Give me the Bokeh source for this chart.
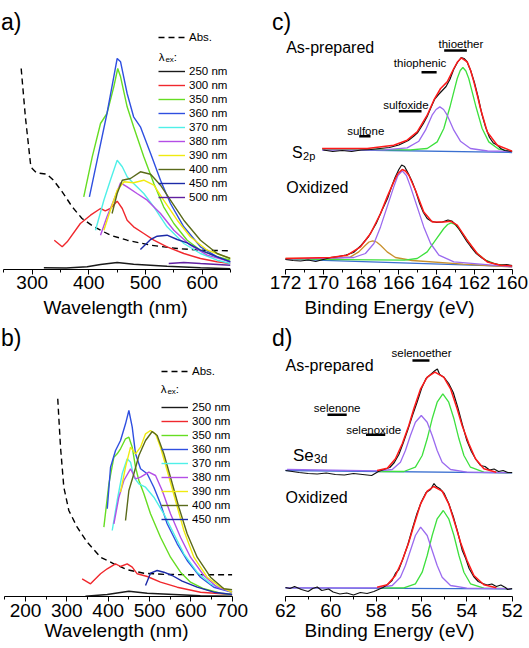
from bokeh.plotting import figure
from bokeh.models import Range1d, FixedTicker, Label, Legend, LegendItem
from bokeh.layouts import row, column
from bokeh.embed import file_html
from bokeh.resources import INLINE

FONT = "Liberation Sans"

# ======================= DATA =======================
# ---- panel a: PL spectra (intensity, a.u.) ----
A_ABS_X = [280.6, 288, 297, 300, 307.6, 326, 338, 353, 370.6, 388, 409, 438, 467.6, 509, 556, 597, 650]
A_ABS_Y = [201, 152.7, 106, 101, 96.7, 95.3, 89, 77.7, 62.7, 51, 42.7, 34.3, 29.3, 24.3, 21, 19.3, 18.7]

A_250_X = [320.6, 360, 397, 420.6, 450, 479, 538, 597, 650]
A_250_Y = [1.7, 1.5, 2.7, 5, 7, 5.3, 3.3, 1.7, 0.7]
A_300_X = [339, 353, 361.8, 385, 403, 420.6, 429, 438, 450, 459, 467.6, 479, 497, 514.7, 538, 567.6, 597, 626, 650]
A_300_Y = [29.3, 22.7, 27.7, 46, 54.3, 61, 58.7, 61, 68.3, 61, 49.3, 42.7, 36, 29.3, 22.7, 16, 11, 7.7, 6]
A_350_X = [391, 406, 420.6, 432, 444, 451, 456, 467.6, 479, 497, 514.7, 532, 550, 573.5, 597, 626.5, 650]
A_350_Y = [72.7, 112.7, 146, 156, 182.7, 201, 192.7, 162.7, 142.7, 112.7, 86, 62.7, 46, 29.3, 19.3, 12.7, 9.3]
A_360_X = [401, 414.7, 432, 444, 450, 456, 467.6, 479, 491, 509, 526.5, 544, 567.6, 597, 626.5, 650]
A_360_Y = [72.7, 109.3, 156, 192.7, 211, 207.7, 176, 152.7, 142.7, 116, 89.3, 66, 42.7, 22.7, 12.7, 7.7]
A_370_X = [411.8, 426.5, 438, 450, 459, 467.6, 479, 497, 514.7, 538, 567.6, 597, 626.5, 650]
A_370_Y = [39.3, 69.3, 89.3, 109.3, 102.7, 92.7, 86, 76, 62.7, 42.7, 26, 16, 9.3, 6]
A_380_X = [420.6, 432, 444, 456, 467.6, 485, 503, 526.5, 550, 579, 609, 650]
A_380_Y = [34.3, 52.7, 69.3, 86.7, 82.7, 76, 69.3, 56, 39.3, 24.3, 14.3, 7.7]
A_390_X = [426.5, 438, 450, 462, 479, 497, 514.7, 532, 556, 579, 609, 650]
A_390_Y = [39.3, 59.3, 79.3, 87.7, 86.7, 89.3, 84.3, 69.3, 49.3, 32.7, 19.3, 11]
A_400_X = [441, 450, 459, 473.5, 491, 509, 526.5, 544, 567.6, 597, 626.5, 650]
A_400_Y = [56, 76, 89.3, 91, 97.7, 95.3, 84.3, 69.3, 49.3, 29.3, 16, 11]
A_450_X = [491, 509, 520.6, 538, 556, 573.5, 597, 626.5, 650]
A_450_Y = [20, 30, 33.3, 34.3, 30, 26.7, 19.3, 12.7, 7.7]
A_500_X = [541, 567.6, 597, 650]
A_500_Y = [6, 7, 6, 4.3]

# ---- panel b ----
B_ABS_X = [278, 284.7, 292.7, 304.8, 325, 349.3, 381.5, 413.7, 446, 486.3, 542.8, 623.4, 700]
B_ABS_Y = [197.7, 149.3, 109.3, 86, 69.3, 54.3, 39.3, 32.7, 26.7, 23.3, 22, 21.7, 21.7]
B_250_X = [345, 397.7, 450, 494.5, 558.8, 623, 700]
B_250_Y = [0.3, 2, 5.3, 3.3, 2, 0.7, 0.2]
B_300_X = [337, 357.3, 381.5, 397.7, 417.8, 429.9, 446, 458.2, 470.3, 494.5, 526.6, 567, 623.4, 700]
B_300_Y = [17.7, 12.7, 22.7, 27.7, 32.7, 30, 32.7, 29.3, 22.7, 20, 14.3, 9.3, 4.3, 2]
B_350_X = [389.6, 401.7, 413.8, 421.8, 429.9, 442, 450.1, 458.2, 466.2, 474.3, 486.4, 502.4, 526.6, 550.8, 575, 599.2, 631.5, 671.8, 700]
B_350_Y = [69.3, 112.7, 139.3, 142.7, 147.7, 157.7, 159.3, 149.3, 129.3, 116, 102.7, 82.7, 59.3, 39.3, 24.3, 14.3, 7.7, 3.3, 2]
B_360_X = [397.8, 405.7, 417.8, 429.9, 442, 450.1, 458.2, 466.2, 478.3, 494.4, 510.5, 526.6, 542.7, 566.9, 591.1, 623.4, 655.7, 700]
B_360_Y = [87.7, 129.3, 146, 156, 172.7, 186, 169.3, 142.7, 127.7, 122.7, 109.3, 92.7, 72.7, 52.7, 36, 19.3, 9.3, 4.3]
B_370_X = [409.8, 421.8, 433.9, 446, 454.1, 462.2, 474.3, 490.4, 510.5, 534.7, 558.9, 583.1, 615.3, 647.6, 700]
B_370_Y = [66, 96, 122.7, 137.7, 134.3, 119.3, 112.7, 109.3, 99.3, 82.7, 62.7, 42.7, 24.3, 12.7, 4.3]
B_380_X = [413.8, 425.9, 438, 454.1, 466.2, 478.3, 498.4, 514.6, 530.7, 550.8, 575, 599.2, 631.5, 663.7, 700]
B_380_Y = [72.7, 99.3, 116, 127.7, 117.7, 119.3, 124.3, 121, 106, 82.7, 59.3, 39.3, 21, 9.3, 4.3]
B_390_X = [429.9, 442, 454.1, 466.2, 478.3, 490.4, 502.4, 514.6, 526.6, 542.7, 562.9, 583.1, 607.3, 639.5, 671.8, 700]
B_390_Y = [104.3, 129.3, 149.3, 142.7, 149.3, 162.7, 166, 162.7, 149.3, 126, 96, 66, 39.3, 19.3, 9.3, 4.3]
B_400_X = [442, 450.1, 462.2, 474.3, 490.4, 506.5, 518.6, 534.7, 550.8, 571, 591.1, 615.3, 647.6, 679.9, 700]
B_400_Y = [76, 106, 122.7, 141, 156, 165, 161, 142.7, 119.3, 89.3, 62.7, 39.3, 19.3, 7.7, 6.7]
B_450_X = [490.4, 502.4, 518.6, 534.7, 554.8, 579, 615.3, 655.7, 700]
B_450_Y = [11, 23.3, 26, 24.3, 21, 15.3, 9.3, 4.3, 2]

EX_LABELS = ["250 nm", "300 nm", "350 nm", "360 nm", "370 nm", "380 nm", "390 nm", "400 nm", "450 nm", "500 nm"]

# ---- panel c: S 2p XPS (binding energy eV, intensity a.u.) ----
C_AP_DATA_X = [170.0, 169.5, 169.0, 168.5, 168.0, 167.5, 167.0, 166.5, 166.0, 165.5, 165.2, 165.0, 164.7, 164.5, 164.3, 164.1, 163.9, 163.7, 163.5, 163.3, 163.1, 162.9, 162.7, 162.55, 162.4, 162.2, 162.0, 161.8, 161.6, 161.4, 161.2, 161.0, 160.8, 160.6, 160.4, 160.2, 160.0]
C_AP_DATA_Y = [119.5, 118, 119, 118, 119.5, 120, 121, 122, 124.5, 129, 133.5, 137, 146, 153, 162, 170.5, 175, 179, 183, 190, 200, 207, 212, 211, 208, 199, 187, 172, 155, 142, 132, 126.5, 124.5, 121, 119, 118.5, 118]
C_AP_FIT_X = [170.06, 167.68, 166.27, 165.56, 165.03, 164.5, 164.15, 163.79, 163.44, 163.09, 162.9, 162.7, 162.38, 162.2, 162.03, 161.85, 161.68, 161.32, 160.79, 160.0]
C_AP_FIT_Y = [121, 121, 124.3, 129.3, 137.6, 154.3, 169.3, 181, 187.6, 201, 207.5, 211.6, 207.6, 199, 187.6, 174.5, 161, 137.6, 124.3, 118.3]
C_AP_G_X = [170.06, 165.4, 164.5, 163.97, 163.62, 163.27, 162.91, 162.75, 162.61, 162.45, 162.3, 161.94, 161.59, 161.24, 160.71, 160.0]
C_AP_G_Y = [120.5, 119.7, 121, 127.6, 141, 164.3, 191, 199, 202, 198.5, 191, 164.3, 141, 127.6, 120.3, 118]
C_AP_P_X = [170.06, 166.8, 165.56, 164.94, 164.59, 164.24, 164.03, 163.83, 163.63, 163.44, 163.09, 162.74, 162.21, 161.3, 160.0]
C_AP_P_Y = [119.3, 119.6, 121.6, 128.3, 139.3, 154.3, 160, 162.6, 160, 154.3, 139.3, 128.3, 121, 118.5, 118]
C_AP_BASE_X = [170.06, 160.0]
C_AP_BASE_Y = [120, 117]

C_OX_DATA_X = [172, 171.6, 171.2, 170.8, 170.4, 170, 169.6, 169.2, 168.8, 168.4, 168.0, 167.6, 167.2, 166.9, 166.6, 166.4, 166.2, 166.0, 165.85, 165.7, 165.5, 165.3, 165.1, 164.9, 164.7, 164.5, 164.3, 164.0, 163.7, 163.4, 163.2, 163.0, 162.8, 162.6, 162.4, 162.2, 161.9, 161.6, 161.3, 161.0, 160.6, 160.3, 160.0]
C_OX_DATA_Y = [10, 9, 8.5, 9.5, 8, 10, 12, 13, 14.5, 17, 24, 33, 46, 59, 71, 82, 92, 100, 104.5, 103, 96, 88, 78, 66, 57, 51, 48.5, 47, 47.5, 49.5, 48.5, 45, 40, 34, 28, 23, 16, 11.5, 8, 6, 4.5, 5, 4]
C_OX_FIT_X = [172, 169.62, 168.73, 168.03, 167.5, 166.97, 166.62, 166.27, 166.05, 165.82, 165.65, 165.47, 165.12, 164.68, 164.23, 163.62, 163.27, 162.91, 162.38, 161.85, 161.32, 160.62, 160]
C_OX_FIT_Y = [11, 12, 14.3, 22.6, 36, 56, 72.6, 87.6, 96, 100, 98.5, 94.3, 79.3, 57.6, 47.6, 47.6, 48.3, 44.3, 29.3, 16, 7.6, 4.3, 3.6]
C_OX_P_X = [172, 168.38, 167.77, 167.32, 166.97, 166.62, 166.27, 166.05, 165.82, 165.6, 165.38, 165.03, 164.68, 164.32, 163.88, 163.09, 160]
C_OX_P_Y = [10.3, 12, 16, 26, 42.6, 62.6, 82.6, 94, 98.6, 94, 82.6, 62.6, 42.6, 26, 14.3, 7.6, 2.6]
C_OX_G_X = [172, 165.7, 165.03, 164.5, 164.06, 163.62, 163.42, 163.23, 163.03, 162.83, 162.38, 161.94, 161.41, 160.79, 160]
C_OX_G_Y = [10.3, 9.3, 11, 17.6, 29.3, 41, 45, 46.6, 45, 41, 29.3, 17.6, 9.3, 5, 3.3]
C_OX_O_X = [172, 169.6, 168.56, 168.12, 167.77, 167.58, 167.38, 167.18, 166.97, 166.62, 166.18, 165.3, 162.6, 160]
C_OX_O_Y = [11, 11, 12.6, 17.6, 24.3, 27.5, 28.6, 27.5, 24.3, 17.6, 12, 9, 5.3, 2.6]
C_OX_BASE_X = [172, 160]
C_OX_BASE_Y = [10.3, 3]

S_SPECIES = ["sulfone", "sulfoxide", "thiophenic", "thioether"]
S_BE_HI = [168.1, 166.0, 164.8, 163.6]
S_BE_LO = [167.5, 164.8, 164.0, 162.4]

# ---- panel d: Se 3d XPS ----
D_AP_DATA_X = [62, 61.7, 61.4, 61, 60.6, 60.2, 59.8, 59.4, 59, 58.6, 58.2, 57.9, 57.6, 57.4, 57.2, 57.0, 56.8, 56.6, 56.4, 56.2, 56.0, 55.8, 55.6, 55.4, 55.3, 55.2, 55.0, 54.8, 54.6, 54.4, 54.2, 54.0, 53.8, 53.6, 53.4, 53.2, 53.0, 52.8, 52.6, 52.4, 52.2, 52]
D_AP_DATA_Y = [126, 125, 124, 123, 122.5, 123.5, 122, 121.5, 123, 122, 121, 125, 127.5, 129, 134, 142, 154, 167, 181, 194, 208, 218, 222, 226, 227.5, 222, 219, 213, 204, 189, 172, 156, 145, 137, 131, 130, 126.5, 127.5, 125, 126, 124, 124]
D_AP_FIT_X = [57.96, 57.51, 57.15, 56.85, 56.56, 56.34, 56.04, 55.75, 55.41, 55.02, 54.72, 54.43, 54.21, 53.91, 53.62, 53.25, 52.7]
D_AP_FIT_Y = [126, 128.3, 137.7, 152.7, 171, 187.7, 207.7, 219.3, 224.3, 219.3, 207.7, 187.7, 171, 152.7, 137.7, 127.7, 124.3]
D_AP_G_X = [57.9, 56.78, 56.27, 55.97, 55.75, 55.53, 55.31, 55.06, 54.8, 54.57, 54.35, 54.13, 53.84, 53.25, 52]
D_AP_G_Y = [125, 125, 129.3, 141, 157.7, 177.7, 194.3, 202.7, 194.3, 177.7, 157.7, 141, 129.3, 124.3, 123.7]
D_AP_P_X = [61.93, 57.9, 57.29, 56.93, 56.71, 56.49, 56.27, 56.01, 55.75, 55.53, 55.31, 55.09, 54.72, 54.0, 52]
D_AP_P_Y = [127, 125.7, 127, 134.3, 146, 161, 174.3, 181, 174.3, 161, 146, 134.3, 127, 124.3, 123.7]
D_AP_BASE_X = [62, 52]
D_AP_BASE_Y = [126, 123.7]

D_OX_DATA_X = [62, 61.8, 61.6, 61.3, 61, 60.8, 60.6, 60.4, 60.1, 59.9, 59.6, 59.3, 59, 58.7, 58.4, 58.1, 57.9, 57.7, 57.5, 57.3, 57.15, 57.0, 56.8, 56.6, 56.4, 56.2, 56.0, 55.8, 55.6, 55.45, 55.35, 55.2, 55.0, 54.8, 54.6, 54.4, 54.2, 54.05, 53.9, 53.7, 53.5, 53.3, 53.1, 52.9, 52.7, 52.5, 52.3, 52.2, 52]
D_OX_DATA_Y = [9, 8, 10, 7, 5, 8, 9.5, 6, 7.5, 4.5, 2.5, 3.5, 1.5, 4, 3, 5, 7, 9, 12, 16, 23, 27, 39, 52, 68, 83, 95, 104, 107, 113, 110, 108, 103, 93, 80, 64, 46, 38, 28, 20, 15, 13, 11.5, 12.5, 10, 11.5, 9, 7, 8]
D_OX_FIT_X = [57.96, 57.51, 57.15, 56.85, 56.56, 56.34, 56.04, 55.75, 55.46, 55.09, 54.8, 54.5, 54.28, 53.99, 53.69, 53.25, 52.7]
D_OX_FIT_Y = [9.3, 11.7, 21, 36, 54.3, 71, 92.7, 105.3, 110, 105.3, 92.7, 71, 54.3, 36, 21, 11.7, 8.7]
D_OX_G_X = [57.9, 56.78, 56.27, 55.97, 55.75, 55.53, 55.31, 55.04, 54.8, 54.57, 54.35, 54.13, 53.84, 53.25, 52]
D_OX_G_Y = [8.7, 8.7, 12.7, 24.3, 41, 61, 77.7, 86, 77.7, 61, 41, 24.3, 12.7, 8.3, 7.7]
D_OX_P_X = [62, 57.9, 57.29, 56.93, 56.71, 56.49, 56.27, 56.04, 55.75, 55.53, 55.31, 55.09, 54.72, 54.0, 52]
D_OX_P_Y = [8.7, 8.7, 11, 19.3, 31, 46, 61, 69.3, 61, 46, 31, 19.3, 11, 8.3, 7.7]
D_OX_BASE_X = [62, 52]
D_OX_BASE_Y = [8.7, 7.7]

SE_SPECIES = ["selenoether", "selenone", "selenoxide"]
SE_BE_HI = [56.4, 60.15, 58.45]
SE_BE_LO = [55.65, 59.3, 57.6]

# tick values
A_MAJOR = [300, 400, 500, 600]
A_MINOR = [250, 350, 450, 550, 650]
B_MAJOR = [200, 300, 400, 500, 600, 700]
B_MINOR = [150, 250, 350, 450, 550, 650]
C_MAJOR = [172, 170, 168, 166, 164, 162, 160]
C_MINOR = [171, 169, 167, 165, 163, 161]
D_MAJOR = [62, 60, 58, 56, 54, 52]
D_MINOR = [61, 59, 57, 55, 53]

# ======================= STYLE / LAYOUT =======================
COLORS = ["#1a1a1a", "#f0282d", "#66dd22", "#2f4fe0", "#4ff0e8",
          "#b44ee6", "#f0ea10", "#5a6a1a", "#1c2aa8", "#6020a0"]
XPS = dict(data="#111111", fit="#ff1a1a", g="#3ee03e", p="#9b6bef",
           base="#3a6fd0", o="#c8902c")

# frame geometry in page pixels (page has no margin)
G = {
    "a": dict(left=0, right=230, top=0, bottom=269, x0=244.1, x1=650, y0=0, y1=269, bounds=(250, 650)),
    "c": dict(left=266, right=512, top=0, bottom=269, x0=173.006, x1=159.984, y0=0, y1=269, bounds=(160, 172)),
    "b": dict(left=0, right=232, top=320, bottom=596, x0=139.5, x1=700.8, y0=0, y1=276, bounds=(150, 700)),
    "d": dict(left=266, right=512, top=320, bottom=596, x0=62.838, x1=51.987, y0=0, y1=276, bounds=(52, 62)),
}


def to_data(k, X, Y):
    g = G[k]
    x = g["x0"] + (X - g["left"]) / (g["right"] - g["left"]) * (g["x1"] - g["x0"])
    y = g["y0"] + (g["bottom"] - Y) / (g["bottom"] - g["top"]) * (g["y1"] - g["y0"])
    return x, y


def make_fig(k, col_x, row_y, width, height, xlabel, major, minor, tick_standoff, lab_standoff):
    g = G[k]
    p = figure(width=width, height=height,
               x_range=Range1d(g["x0"], g["x1"]), y_range=Range1d(g["y0"], g["y1"]),
               output_backend="svg", toolbar_location=None, tools="",
               y_axis_location=None,
               min_border_left=g["left"] - col_x,
               min_border_right=col_x + width - g["right"],
               min_border_top=g["top"] - row_y,
               min_border_bottom=row_y + height - g["bottom"])
    p.outline_line_color = None
    p.grid.visible = False
    p.background_fill_color = "white"
    p.border_fill_color = "white"
    ax = p.xaxis[0]
    ax.bounds = g["bounds"]
    ax.ticker = FixedTicker(ticks=major, minor_ticks=minor)
    ax.axis_label = xlabel
    ax.axis_label_text_font = FONT
    ax.axis_label_text_font_size = "19px"
    ax.axis_label_text_font_style = "normal"
    ax.axis_label_text_color = "black"
    ax.axis_label_standoff = lab_standoff
    ax.major_label_text_font = FONT
    ax.major_label_text_font_size = "19px"
    ax.major_label_text_color = "black"
    ax.major_label_standoff = tick_standoff
    ax.axis_line_color = "black"
    ax.axis_line_width = 1.2
    ax.major_tick_line_color = "black"
    ax.minor_tick_line_color = "black"
    ax.major_tick_out = 5
    ax.major_tick_in = 0
    ax.minor_tick_out = 3
    ax.minor_tick_in = 0
    return p


def text(p, k, X, Y, s, size):
    x, y = to_data(k, X, Y)
    p.add_layout(Label(x=x, y=y, text=s, text_font=FONT, text_font_size=size,
                       text_color="black", text_baseline="alphabetic", text_align="left"))


def pl_panel(p, k, abs_xy, series, labels, leg_abs_center, leg_first_center, leg_x, lam_xy):
    g = G[k]
    ra = p.line(abs_xy[0], abs_xy[1], line_color="black", line_width=1.4, line_dash="6 4")
    rs = []
    for (xs, ys), c in zip(series, COLORS):
        rs.append(p.line(xs, ys, line_color=c, line_width=1.4))
    common = dict(orientation="vertical", glyph_width=27, glyph_height=14, label_height=14,
                  spacing=0, padding=0, margin=0, label_standoff=4,
                  border_line_color=None, background_fill_alpha=0,
                  label_text_font=FONT, label_text_font_size="11.5px", label_text_color="black")
    la = Legend(items=[LegendItem(label="Abs.", renderers=[ra])],
                location=(leg_x - g["left"], g["bottom"] - (leg_abs_center + 7)), **common)
    n = len(series)
    lb = Legend(items=[LegendItem(label=l, renderers=[r]) for l, r in zip(labels, rs)],
                location=(leg_x - g["left"], g["bottom"] - (leg_first_center - 7 + 14 * n)), **common)
    p.add_layout(la)
    p.add_layout(lb)
    lx, ly = lam_xy
    text(p, k, lx, ly, "\u03bb", "11.5px")
    text(p, k, lx + 6.6, ly + 2.2, "ex", "8px")
    text(p, k, lx + 15.0, ly, ":", "11.5px")


def xps_spectrum(p, data, fit, comps, base):
    p.line(base[0], base[1], line_color=XPS["base"], line_width=1.3)
    for (xs, ys, c) in comps:
        p.line(xs, ys, line_color=XPS[c], line_width=1.3)
    p.line(data[0], data[1], line_color=XPS["data"], line_width=1.2)
    p.line(fit[0], fit[1], line_color=XPS["fit"], line_width=1.5)


# ======================= PANEL a =======================
pa = make_fig("a", 0, 0, 265, 320, "Wavelength (nm)", A_MAJOR, A_MINOR, 1, 5)
pl_panel(pa, "a", (A_ABS_X, A_ABS_Y),
         [(A_250_X, A_250_Y), (A_300_X, A_300_Y), (A_350_X, A_350_Y), (A_360_X, A_360_Y),
          (A_370_X, A_370_Y), (A_380_X, A_380_Y), (A_390_X, A_390_Y), (A_400_X, A_400_Y),
          (A_450_X, A_450_Y), (A_500_X, A_500_Y)],
         EX_LABELS, 36.7, 70.5, 158, (158.3, 56.3))
text(pa, "a", 0.5, 21.5, "a)", "23px")

# ======================= PANEL b =======================
pb = make_fig("b", 0, 320, 265, 328, "Wavelength (nm)", B_MAJOR, B_MINOR, 2, 0)
pl_panel(pb, "b", (B_ABS_X, B_ABS_Y),
         [(B_250_X, B_250_Y), (B_300_X, B_300_Y), (B_350_X, B_350_Y), (B_360_X, B_360_Y),
          (B_370_X, B_370_Y), (B_380_X, B_380_Y), (B_390_X, B_390_Y), (B_400_X, B_400_Y),
          (B_450_X, B_450_Y)],
         EX_LABELS[:9], 370.7, 406.5, 161, (160.3, 388.3))
text(pb, "b", 0.5, 337, "b)", "23px")

# ======================= PANEL c =======================
pc = make_fig("c", 265, 0, 264, 320, "Binding Energy (eV)", C_MAJOR, C_MINOR, 1, 5)
xps_spectrum(pc, (C_AP_DATA_X, C_AP_DATA_Y), (C_AP_FIT_X, C_AP_FIT_Y),
             [(C_AP_G_X, C_AP_G_Y, "g"), (C_AP_P_X, C_AP_P_Y, "p")], (C_AP_BASE_X, C_AP_BASE_Y))
xps_spectrum(pc, (C_OX_DATA_X, C_OX_DATA_Y), (C_OX_FIT_X, C_OX_FIT_Y),
             [(C_OX_O_X, C_OX_O_Y, "o"), (C_OX_G_X, C_OX_G_Y, "g"), (C_OX_P_X, C_OX_P_Y, "p")],
             (C_OX_BASE_X, C_OX_BASE_Y))
# species markers: bar page-y, label page-x, label baseline page-y
S_LAYOUT = [(135.7, 346.7, 130.0), (110.7, 382.7, 104.3), (71.7, 393.3, 62.7), (50.0, 438.0, 43.3)]
bar_y = [to_data("c", 0, by)[1] for by, _, _ in S_LAYOUT]
pc.segment(x0=S_BE_HI, x1=S_BE_LO, y0=bar_y, y1=bar_y, line_color="black", line_width=2.6)
for name, (by, tx, ty) in zip(S_SPECIES, S_LAYOUT):
    text(pc, "c", tx, ty, name, "11.5px")
text(pc, "c", 271.5, 21.5, "c)", "23px")
text(pc, "c", 285.7, 47.3, "As-prepared", "16px")
text(pc, "c", 285.7, 186.7, "Oxidized", "16px")
text(pc, "c", 291.5, 151.5, "S", "16px")
text(pc, "c", 302.6, 155.5, "2p", "11px")

# ======================= PANEL d =======================
pd = make_fig("d", 265, 320, 264, 328, "Binding Energy (eV)", D_MAJOR, D_MINOR, 2, 0)
xps_spectrum(pd, (D_AP_DATA_X, D_AP_DATA_Y), (D_AP_FIT_X, D_AP_FIT_Y),
             [(D_AP_G_X, D_AP_G_Y, "g"), (D_AP_P_X, D_AP_P_Y, "p")], (D_AP_BASE_X, D_AP_BASE_Y))
xps_spectrum(pd, (D_OX_DATA_X, D_OX_DATA_Y), (D_OX_FIT_X, D_OX_FIT_Y),
             [(D_OX_G_X, D_OX_G_Y, "g"), (D_OX_P_X, D_OX_P_Y, "p")], (D_OX_BASE_X, D_OX_BASE_Y))
SE_LAYOUT = [(360.0, 391.0, 352.3), (414.3, 313.3, 407.0), (434.3, 345.7, 429.0)]
bar_y = [to_data("d", 0, by)[1] for by, _, _ in SE_LAYOUT]
pd.segment(x0=SE_BE_HI, x1=SE_BE_LO, y0=bar_y, y1=bar_y, line_color="black", line_width=2.6)
for name, (by, tx, ty) in zip(SE_SPECIES, SE_LAYOUT):
    text(pd, "d", tx, ty, name, "11.5px")
text(pd, "d", 271.5, 337.5, "d)", "23px")
text(pd, "d", 285.0, 365.0, "As-prepared", "16px")
text(pd, "d", 285.0, 496.7, "Oxidized", "16px")
text(pd, "d", 292.5, 455.0, "Se", "17px")
text(pd, "d", 313.5, 458.5, "3d", "12px")

layout = column(row(pa, pc), row(pb, pd))
open("out.html", "w").write(file_html(layout, INLINE))
